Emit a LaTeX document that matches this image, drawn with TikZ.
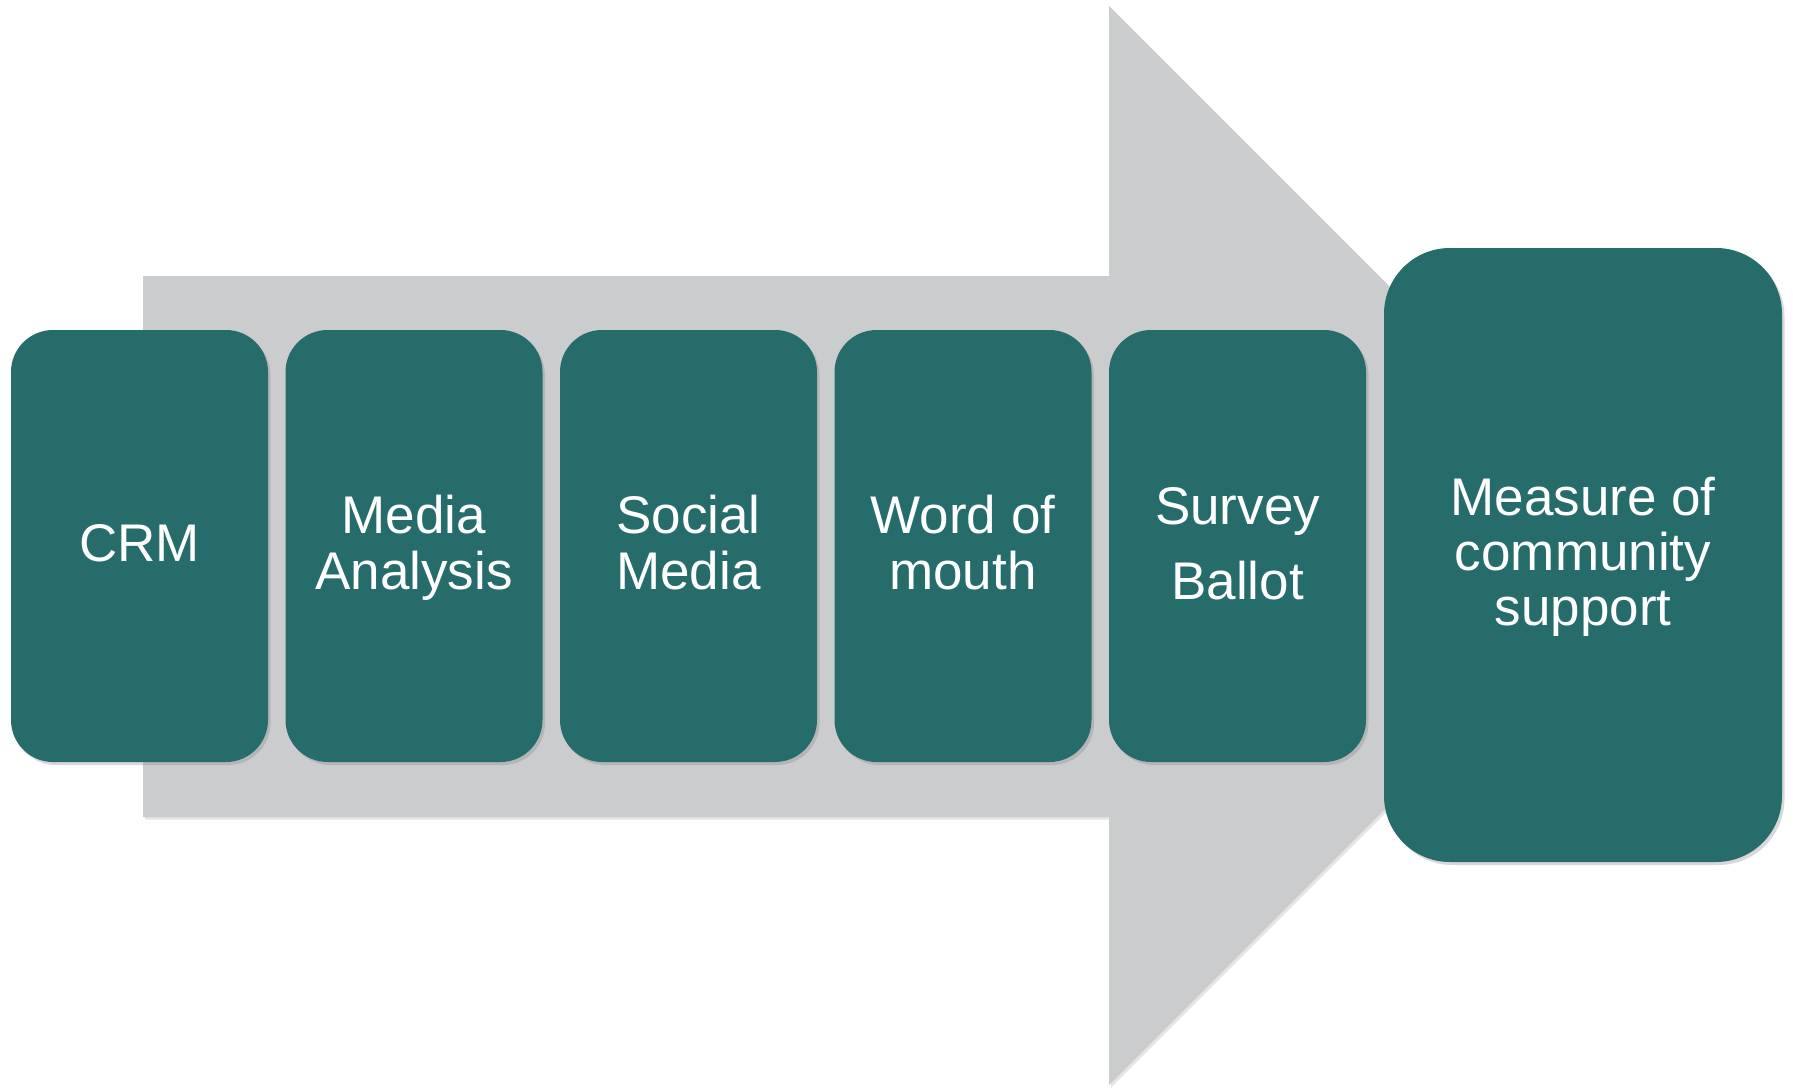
\documentclass[tikz,border=0pt]{standalone}
\usepackage{fontspec}
\setmainfont{Liberation Sans}
\usetikzlibrary{shadows}
\definecolor{tealbox}{HTML}{266C6B}
\definecolor{arrowgray}{HTML}{CBCCCE}
\newcommand{\topstrut}{\rule{0pt}{52pt}}
\newcommand{\botstrut}{\rule[-21pt]{0pt}{21pt}}
\newcommand{\bigbotstrut}{\rule[-22pt]{0pt}{22pt}}
\begin{document}
\begin{tikzpicture}[x=1pt,y=-1pt,
  box/.style={rectangle, rounded corners=42pt, fill=tealbox, text=white,
    minimum width=257pt, minimum height=432pt, inner sep=0pt, align=center,
    font=\fontsize{53}{56}\selectfont,
    drop shadow={shadow xshift=2.5pt, shadow yshift=-3pt, opacity=0.3}},
  bigbox/.style={box, rounded corners=66pt, minimum width=398pt,
    minimum height=614pt, font=\fontsize{53}{55}\selectfont},
  bigarrow/.style={fill=arrowgray,
    drop shadow={shadow xshift=2pt, shadow yshift=-2.5pt, opacity=0.2}}]
\useasboundingbox (0,0) rectangle (1793,1089);
\fill[white] (0,0) rectangle (1793,1089);
\path[bigarrow] (143,276) -- (1109,276) -- (1109,6) -- (1648.5,545.5)
  -- (1109,1085) -- (1109,817) -- (143,817) -- cycle;
\node[box] (crm) at (139.5,546) {\topstrut CRM\botstrut};
\node[box] (media) at (414,546) {\topstrut Media\\Analysis\botstrut};
\node[box] (social) at (688.5,546) {\topstrut Social\\Media\botstrut};
\node[box] (word) at (963,546) {\topstrut Word of\\mouth\botstrut};
\node[box] (survey) at (1237.5,546) {\topstrut Survey\\[19pt]Ballot\botstrut};
\node[bigbox] (measure) at (1583,555) {\topstrut Measure of\\community\\support\bigbotstrut};
\end{tikzpicture}
\end{document}
